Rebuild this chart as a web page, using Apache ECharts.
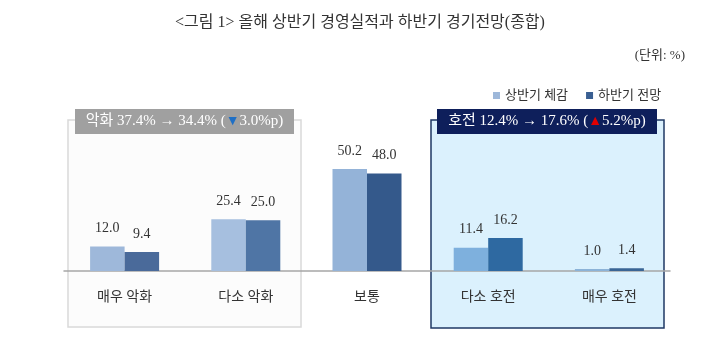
<!DOCTYPE html>
<html>
<head>
<meta charset="utf-8">
<script src="https://cdn.jsdelivr.net/npm/echarts@6/dist/echarts.min.js"></script>
<style>
  html, body { margin: 0; padding: 0; background: #fff; }
  #chart { width: 720px; height: 351px; }
</style>
</head>
<body>
<div id="chart"></div>
<script>
const FONT = '"Liberation Serif", "Noto Sans CJK KR", serif';

const categories = ['매우 악화', '다소 악화', '보통', '다소 호전', '매우 호전'];
const firstHalf  = [12.0, 25.4, 50.2, 11.4, 1.0];   // 상반기 체감
const secondHalf = [9.4, 25.0, 48.0, 16.2, 1.4];    // 하반기 전망

// the source shades each category a little differently
const lightColors = ['#9eb8da', '#a6bfdf', '#94b3d8', '#7eb0dd', '#8cb3d8'];
const darkColors  = ['#4a6a9a', '#4f75a5', '#34598b', '#2e69a1', '#3a6595'];

const c = echarts.init(document.getElementById('chart'), null, { renderer: 'canvas' });

const LABEL = {
  show: true, position: 'top', distance: 11,
  color: '#333', fontSize: 14, fontFamily: FONT,
  formatter: p => p.value.toFixed(1),
};

c.setOption({
  animation: false,
  textStyle: { fontFamily: FONT, color: '#333' },
  title: [
    {
      text: '<그림 1> 올해 상반기 경영실적과 하반기 경기전망(종합)',
      left: 'center', top: 10,
      textStyle: { fontSize: 16, fontWeight: 'normal', color: '#333', fontFamily: FONT },
    },
    {
      text: '(단위: %)',
      right: 30, top: 44,
      textStyle: { fontSize: 13, fontWeight: 'normal', color: '#333', fontFamily: FONT },
    },
  ],
  legend: {
    left: 488, top: 84,
    icon: 'rect', itemWidth: 7, itemHeight: 7, itemGap: 18,
    textStyle: { fontSize: 13, color: '#333', fontFamily: FONT },
    data: ['상반기 체감', '하반기 전망'],
  },
  grid: { left: 64, right: 50, top: 149, bottom: 80 },
  xAxis: {
    type: 'category', data: categories,
    axisLine: { lineStyle: { color: '#a6a6a6', width: 1.5 } },
    axisTick: { show: false },
    axisLabel: { color: '#333', fontSize: 14, margin: 19, fontFamily: FONT },
  },
  yAxis: {
    type: 'value', min: 0, max: 60,
    show: false,
  },
  graphic: [
    // 악화 box
    { type: 'rect', z: -10, shape: { x: 68, y: 120, width: 233, height: 207 },
      style: { fill: '#fcfcfc', stroke: '#d9d9d9', lineWidth: 1.5 } },
    { type: 'rect', z: 10, shape: { x: 75, y: 109, width: 219, height: 25 },
      style: { fill: '#a0a0a0' } },
    { type: 'text', z: 11, x: 184.5, y: 121.5,
      style: {
        text: '악화 37.4% → 34.4% ({b|▼}3.0%p)',
        fill: '#fff', font: '15px ' + FONT, align: 'center', verticalAlign: 'middle',
        rich: { b: { fill: '#1f6fc5', fontSize: 14, fontFamily: FONT } },
      } },
    // 호전 box
    { type: 'rect', z: -10, shape: { x: 431, y: 120, width: 233, height: 208 },
      style: { fill: '#dbf1fd', stroke: '#1f3864', lineWidth: 1.5 } },
    { type: 'rect', z: 10, shape: { x: 437, y: 109, width: 220, height: 25 },
      style: { fill: '#0e1f5b' } },
    { type: 'text', z: 11, x: 547, y: 121.5,
      style: {
        text: '호전 12.4% → 17.6% ({r|▲}5.2%p)',
        fill: '#fff', font: '15px ' + FONT, align: 'center', verticalAlign: 'middle',
        rich: { r: { fill: '#e00000', fontSize: 14, fontFamily: FONT } },
      } },
  ],
  series: [
    {
      name: '상반기 체감', type: 'bar', barWidth: 34.5, barGap: '0%',
      itemStyle: { color: '#9eb8da' },
      label: LABEL,
      data: firstHalf.map((v, i) => ({ value: v, itemStyle: { color: lightColors[i] } })),
    },
    {
      name: '하반기 전망', type: 'bar', barWidth: 34.5,
      itemStyle: { color: '#3a5f92' },
      label: LABEL,
      data: secondHalf.map((v, i) => ({ value: v, itemStyle: { color: darkColors[i] } })),
    },
  ],
});
</script>
</body>
</html>
